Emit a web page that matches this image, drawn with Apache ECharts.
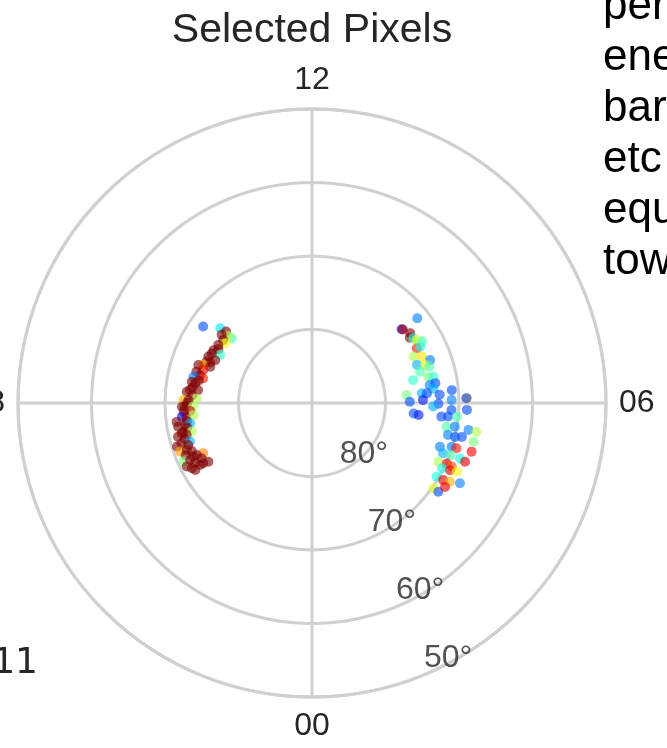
<!DOCTYPE html>
<html>
<head>
<meta charset="utf-8">
<script src="https://cdn.jsdelivr.net/npm/echarts@6/dist/echarts.min.js"></script>
<style>
  html, body { margin: 0; padding: 0; background: #ffffff; }
  #chart { width: 667px; height: 748px; }
</style>
</head>
<body>
<div id="chart"></div>
<script>
// Magnetic local time tick labels (hours) around the dial
const mltTickLabels = ['00', '06', '12', '18'];
// Colatitude rings (degrees from the pole) and their latitude labels
const colatRings = [10, 20, 30, 40];
const latTickLabels = ['80°', '70°', '60°', '50°'];

// Selected pixels on the dusk side: [MLT hours, colatitude deg, colour value]
const duskPixels = [
  [15.66, 18.1, 0.20], [15.39, 16.1, 0.35], [15.35, 15.2, 1.00], [15.41, 14.0, 0.45],
  [15.42, 14.6, 0.55], [15.53, 15.4, 1.00], [15.64, 14.8, 1.00], [15.70, 14.35, 0.62],
  [15.88, 15.0, 1.00], [16.00, 14.7, 1.00], [16.12, 15.2, 1.00], [16.16, 14.1, 0.42],
  [16.25, 15.2, 1.00], [16.39, 15.45, 1.00], [16.41, 14.4, 1.00], [16.55, 14.9, 1.00],
  [16.57, 15.4, 1.00], [16.71, 15.7, 0.70], [16.69, 14.7, 1.00], [16.77, 16.3, 1.00],
  [16.87, 15.45, 0.90], [16.99, 16.3, 1.00], [17.07, 15.7, 1.00], [17.17, 16.5, 0.25],
  [17.15, 15.2, 0.85], [17.25, 15.7, 1.00], [17.33, 16.6, 1.00], [17.36, 16.1, 1.00],
  [17.50, 16.4, 1.00], [17.57, 15.6, 1.00], [17.59, 16.7, 1.00], [17.66, 17.1, 1.00],
  [17.75, 16.3, 1.00], [17.91, 17.5, 0.70], [17.85, 15.7, 0.55], [17.91, 16.8, 1.00],
  [18.00, 17.0, 1.00], [18.11, 17.3, 1.00], [18.12, 16.2, 0.55], [18.11, 17.7, 1.00],
  [18.25, 17.5, 1.00], [18.25, 16.6, 0.95], [18.40, 17.8, 0.12], [18.42, 17.2, 1.00],
  [18.39, 16.2, 0.55], [18.53, 18.6, 1.00], [18.55, 17.2, 1.00], [18.66, 17.5, 1.00],
  [18.67, 18.5, 1.00], [18.63, 16.8, 0.30], [18.75, 17.3, 1.00], [18.84, 17.9, 1.00],
  [18.89, 16.8, 0.55], [18.87, 18.2, 1.00], [18.94, 18.8, 1.00], [18.95, 17.6, 1.00],
  [19.05, 18.0, 1.00], [19.17, 17.4, 0.30], [19.15, 18.6, 1.00], [19.19, 19.3, 1.00],
  [19.25, 17.8, 1.00], [19.35, 19.1, 0.72], [19.37, 18.2, 1.00], [19.45, 17.6, 1.00],
  [19.50, 18.6, 1.00], [19.65, 16.3, 0.75], [19.62, 17.2, 1.00], [19.62, 17.7, 1.00],
  [19.63, 19.2, 0.50], [19.67, 18.3, 1.00], [19.77, 16.8, 1.00], [19.79, 19.1, 1.00],
  [19.80, 17.9, 1.00], [19.97, 16.2, 1.00], [19.93, 17.4, 1.00], [19.93, 16.9, 1.00],
  [19.90, 18.6, 1.00], [19.99, 18.3, 1.00]
];

// Selected pixels on the dawn side: [MLT hours, colatitude deg, colour value]
const dawnPixels = [
  [8.59, 18.4, 0.25], [8.63, 15.8, 0.10], [8.60, 15.9, 0.95], [8.36, 16.4, 1.00],
  [8.25, 16.0, 1.00], [8.17, 16.35, 0.40], [8.07, 16.6, 0.60], [7.95, 17.2, 0.45],
  [7.84, 16.1, 0.85], [7.83, 16.6, 0.40], [7.64, 15.2, 0.55], [7.53, 16.2, 0.65],
  [7.33, 17.1, 0.25], [7.33, 15.2, 0.30], [7.24, 16.2, 0.60], [7.15, 16.7, 0.45],
  [7.08, 15.3, 0.45], [6.85, 16.2, 0.50], [6.81, 16.9, 0.42], [6.85, 14.1, 0.42],
  [6.58, 16.2, 0.25], [6.61, 17.0, 0.20], [6.45, 16.6, 0.30], [6.32, 12.9, 0.50],
  [6.34, 15.0, 0.30], [6.32, 15.7, 0.20], [6.05, 13.3, 0.20], [6.10, 15.1, 0.15],
  [6.25, 17.4, 0.20], [6.35, 19.1, 0.20], [6.08, 19.0, 0.25], [6.12, 21.1, 0.70],
  [6.12, 21.0, 0.20], [5.98, 17.2, 0.20], [5.89, 16.5, 0.30], [5.81, 19.0, 0.20],
  [5.83, 21.1, 0.20], [5.61, 13.9, 0.20], [5.57, 14.6, 0.15], [5.60, 17.7, 0.20],
  [5.62, 18.6, 0.20], [5.64, 19.8, 0.45], [5.33, 18.6, 0.45], [5.37, 19.7, 0.25],
  [5.35, 21.6, 0.25], [5.34, 22.7, 0.55], [5.12, 19.0, 0.25], [5.11, 20.0, 0.20],
  [5.15, 20.9, 0.20], [5.10, 22.6, 0.50], [4.84, 19.9, 0.25], [4.84, 20.6, 0.85],
  [4.87, 22.7, 0.88], [4.74, 18.4, 0.25], [4.60, 19.1, 0.30], [4.63, 20.1, 0.45],
  [4.63, 21.5, 0.40], [4.60, 22.3, 0.90], [4.34, 18.95, 0.55], [4.39, 20.1, 0.90],
  [4.37, 20.9, 0.80], [4.22, 19.8, 0.40], [4.27, 20.9, 0.90], [4.31, 21.8, 0.62],
  [3.96, 19.7, 0.40], [3.97, 20.7, 0.90], [4.02, 21.6, 0.70], [4.10, 22.9, 0.25],
  [3.66, 20.2, 0.60], [3.66, 21.0, 0.20], [3.85, 21.4, 0.90]
];

// Jet colour ramp for the pixel values
const jetColors = ['#00007f', '#0000ff', '#007fff', '#00ffff', '#7fff7f',
                   '#ffff00', '#ff7f00', '#ff0000', '#7f0000'];

const axisGray = '#d0d0d0';
const labelFont = 'Liberation Sans, Arial, sans-serif';
const labelColor = '#262626';

// polar data items are [radius, angle, value]
const toPolar = p => [p[1], p[0], p[2]];

const chart = echarts.init(document.getElementById('chart'), null, { renderer: 'canvas' });

chart.setOption({
  backgroundColor: '#ffffff',
  animation: false,
  polar: { center: [312, 403], radius: 294 },
  angleAxis: {
    type: 'value',
    min: 0,
    max: 24,
    interval: 6,
    startAngle: 270,
    clockwise: false,
    axisLine: { show: true, lineStyle: { color: axisGray, width: 3 } },
    axisTick: { show: false },
    axisLabel: {
      margin: 13,
      fontSize: 32,
      fontFamily: labelFont,
      color: labelColor,
      formatter: v => (v >= 24 ? '' : mltTickLabels[Math.round(v / 6)])
    },
    splitLine: { show: true, lineStyle: { color: axisGray, width: 3 } }
  },
  radiusAxis: {
    type: 'value',
    min: 0,
    max: 40,
    interval: 10,
    axisLine: { show: false },
    axisTick: { show: false },
    axisLabel: { show: false },
    splitLine: { show: true, lineStyle: { color: axisGray, width: 3 } }
  },
  visualMap: {
    show: false,
    type: 'continuous',
    dimension: 2,
    min: 0,
    max: 1,
    seriesIndex: [0, 1],
    inRange: { color: jetColors }
  },
  graphic: [
    {
      type: 'text',
      x: 312,
      y: 31,
      style: {
        text: 'Selected Pixels',
        font: '41px "Liberation Sans", Arial, sans-serif',
        fill: '#262626',
        textAlign: 'center',
        textVerticalAlign: 'middle'
      }
    },
    {
      type: 'text',
      x: 603,
      y: -19,
      style: {
        text: 'per\nene\nbar\netc\nequ\ntow',
        font: '44px "Liberation Sans", Arial, sans-serif',
        lineHeight: 51,
        fill: '#000000',
        textAlign: 'left',
        textVerticalAlign: 'top'
      }
    },
    {
      type: 'text',
      x: 38,
      y: 664,
      style: {
        text: '11',
        font: '36px "DejaVu Sans", sans-serif',
        fill: '#262626',
        textAlign: 'right',
        textVerticalAlign: 'middle'
      }
    }
  ],
  series: [
    {
      type: 'scatter',
      coordinateSystem: 'polar',
      symbolSize: 10,
      itemStyle: { opacity: 0.62 },
      data: duskPixels.map(toPolar),
      silent: true
    },
    {
      type: 'scatter',
      coordinateSystem: 'polar',
      symbolSize: 10,
      itemStyle: { opacity: 0.62 },
      data: dawnPixels.map(toPolar),
      silent: true
    },
    {
      // latitude labels along the 01:30 MLT meridian
      type: 'scatter',
      coordinateSystem: 'polar',
      symbolSize: 1,
      itemStyle: { color: 'rgba(0,0,0,0)' },
      silent: true,
      data: colatRings.map((r, i) => [r, 1.5, i]),
      label: {
        show: true,
        position: [0, 0],
        align: 'left',
        verticalAlign: 'bottom',
        fontSize: 32,
        fontFamily: labelFont,
        color: labelColor,
        formatter: p => latTickLabels[p.data[2]]
      },
      labelLayout: { hideOverlap: false }
    }
  ]
});
</script>
</body>
</html>
